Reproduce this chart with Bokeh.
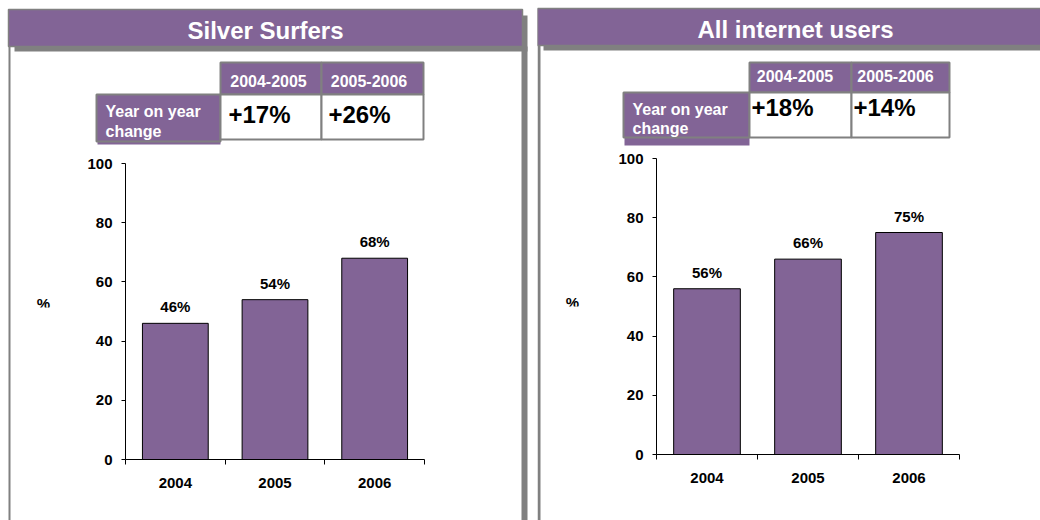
from bokeh.plotting import figure
from bokeh.models import (LabelSet, ColumnDataSource, Range1d, LinearAxis,
                          FixedTicker, SingleIntervalTicker)
from bokeh.core.properties import value
from bokeh.layouts import row
from bokeh.embed import file_html
from bokeh.resources import INLINE

# ---------------- data ----------------
years = ["2004", "2005", "2006"]
silver_values = [46, 54, 68]
all_values = [56, 66, 75]
periods = ["2004-2005", "2005-2006"]
silver_change = ["+17%", "+26%"]
all_change = ["+18%", "+14%"]
panel_titles = ["Silver Surfers", "All internet users"]
row_label = ["Year on year", "change"]
y_label = "%"
y_ticks_step = 20
y_max = 100

PURPLE = "#826496"
GRAY = "#808080"
FONT = "Liberation Sans"
H = 520


def panel(values, changes, title, g):
    W = g["W"]
    n = len(years)
    # map the chart area (axis pixels) onto a full-canvas frame
    ax_l, ax_r, y0_px, ytop_px = g["chart"]
    ppu = (ax_r - ax_l) / n
    xs = -0.5 - ax_l / ppu
    ppy = (y0_px - ytop_px) / y_max
    ys = -(H - y0_px) / ppy

    p = figure(width=W, height=H, x_range=Range1d(xs, xs + W / ppu),
               y_range=Range1d(ys, ys + H / ppy), output_backend="svg",
               toolbar_location=None, x_axis_location=None, y_axis_location=None,
               min_border=0)
    p.title.visible = False
    p.outline_line_color = None
    p.grid.visible = False
    p.background_fill_color = "white"
    p.border_fill_color = "white"
    p.extra_x_ranges = {"px": Range1d(0, W)}
    p.extra_y_ranges = {"px": Range1d(H, 0)}
    px = dict(x_range_name="px", y_range_name="px")

    def quad(l, r, t, b, fill, line=None, lw=0):
        p.quad(left=[l], right=[r], top=[t], bottom=[b], fill_color=fill,
               line_color=line, line_width=lw, **px)

    def txt(x, y, t, size, color="black", align="left"):
        # y is the wanted baseline; compensate the renderer's baseline placement
        p.text(x=[x], y=[y - 0.4 * size], text=[t], text_font=value(FONT),
               text_font_size=f"{size}px", text_font_style="bold", text_color=color,
               text_align=align, text_baseline="alphabetic", **px)

    # ---- panel chrome ----
    lb = g["lborder"]
    quad(lb[0], lb[1], lb[2], H, GRAY)
    if g.get("rshadow"):
        rs = g["rshadow"]
        quad(rs[0], rs[1], rs[2], H, GRAY)
    tb = g["tbar"]
    quad(tb[0] + 6, tb[1] + 5, tb[3], tb[3] + 5, GRAY)
    quad(tb[0], tb[1], tb[2], tb[3], PURPLE, GRAY, 1.5)
    txt(g["title_xy"][0], g["title_xy"][1], title, 24, "white", "center")

    # ---- table ----
    c1, c2, c3 = g["cols"]
    hy0, hy1, vy1 = g["rows"]
    yl = g["yoy_l"]
    quad(yl + 1, c1, vy1, g["strip_b"], PURPLE)
    quad(yl, c1, hy1, g["yoy_b"], PURPLE, GRAY, 2)
    for (a, b) in ((c1, c2), (c2, c3)):
        quad(a, b, hy0, hy1, PURPLE, GRAY, 2)
        quad(a, b, hy1, vy1, "white", GRAY, 2)
    for i, per in enumerate(periods):
        txt(g["hx"][i], g["hy"], per, 16, "white", "center")
        txt(g["vx"][i], g["vy"], changes[i], 24, "black", "left")
    for j, t in enumerate(row_label):
        txt(g["rx"], g["ry"][j], t, 16, "white", "left")
    pcx, pcy = g["pct"]
    txt(pcx, pcy, y_label, 15, "black", "center")
    quad(pcx - 12, pcx + 12, pcy - 2, pcy + 6, "white")  # the source clips this label

    # ---- bars ----
    x = list(range(n))
    src = ColumnDataSource(dict(x=x, v=values, lbl=[f"{v}%" for v in values]))
    p.vbar(x="x", top="v", bottom=0, width=0.66, source=src,
           fill_color=PURPLE, line_color="black", line_width=1)
    p.add_layout(LabelSet(x="x", y="v", text="lbl", source=src, y_offset=11,
                          text_align="center", text_baseline="alphabetic",
                          text_font=value(FONT), text_font_size=value("15px"),
                          text_font_style="bold", text_color="black"))

    # ---- axes ----
    yax = LinearAxis(fixed_location=-0.5, bounds=(0, y_max),
                     ticker=SingleIntervalTicker(interval=y_ticks_step, num_minor_ticks=0))
    yax.major_tick_out = 4
    yax.major_tick_in = 0
    yax.minor_tick_line_color = None
    yax.major_label_standoff = 9
    xax = LinearAxis(fixed_location=0, bounds=(-0.5, n - 0.5),
                     ticker=FixedTicker(ticks=x, minor_ticks=[i - 0.5 for i in range(n + 1)]))
    xax.major_label_overrides = {i: yr for i, yr in enumerate(years)}
    xax.major_tick_out = 0
    xax.major_tick_in = 0
    xax.major_tick_line_color = None
    xax.minor_tick_out = 5
    xax.minor_tick_in = 0
    xax.minor_tick_line_color = "black"
    xax.major_label_standoff = 13
    for ax in (xax, yax):
        ax.axis_line_color = "black"
        ax.major_label_text_font = FONT
        ax.major_label_text_font_size = "15px"
        ax.major_label_text_font_style = "bold"
        ax.major_label_text_color = "black"
    p.add_layout(yax, "left")
    p.add_layout(xax, "below")
    return p


g_left = dict(W=537, chart=(125, 424, 459, 163),
              lborder=(8, 10, 9), rshadow=(521, 527, 15), tbar=(8, 522, 9, 46),
              title_xy=(265, 39.5),
              cols=(220, 321, 423), rows=(62, 94, 139), yoy_l=96, yoy_b=141, strip_b=144,
              hx=(268, 368.5), hy=87, vx=(228, 328), vy=124, rx=105, ry=(117.5, 137),
              pct=(43, 309))
g_right = dict(W=503, chart=(119, 422, 454, 158),
               lborder=(0, 3, 8), rshadow=None, tbar=(0, 508, 8, 45),
               title_xy=(258, 39),
               cols=(212, 314, 412), rows=(62, 92, 137), yoy_l=86, yoy_b=137, strip_b=145,
               hx=(257.5, 358), hy=82, vx=(214, 316), vy=117, rx=95, ry=(115, 134),
               pct=(35, 308))

p1 = panel(silver_values, silver_change, panel_titles[0], g_left)
p2 = panel(all_values, all_change, panel_titles[1], g_right)
layout = row(p1, p2)

open("out.html", "w").write(file_html(layout, INLINE))
